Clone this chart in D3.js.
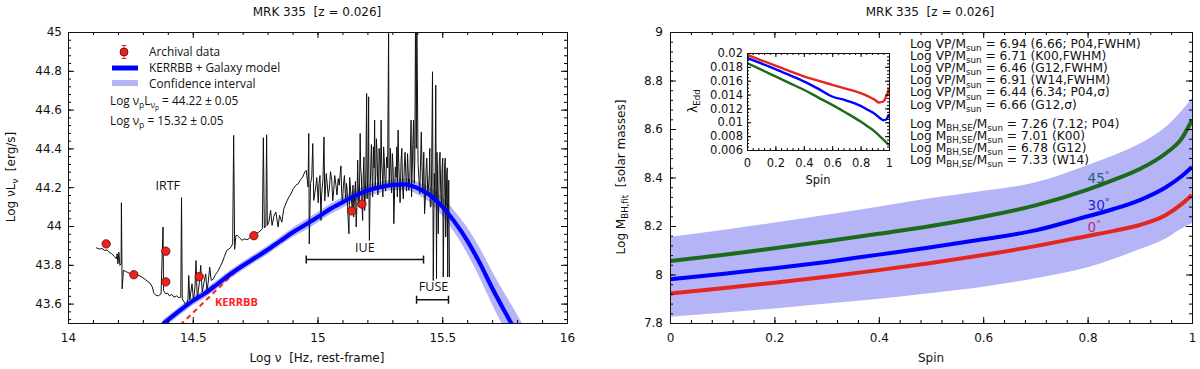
<!DOCTYPE html>
<html>
<head>
<meta charset="utf-8">
<script src="https://cdn.jsdelivr.net/npm/d3@7"></script>
<style>
  body { margin: 0; background: #fff; }
  svg { display: block; }
  text { font-family: "DejaVu Sans", sans-serif; fill: #111; }
  .os { font-family: "Open Sans", sans-serif; }
</style>
</head>
<body>
<svg id="chart" width="1200" height="369"></svg>
<script>
// ---- left panel: SED of MRK 335 ----
// observed spectrum (log nu, log nuLnu), read off the picture
var specNu = [14.113,14.126,14.136,14.147,14.156,14.165,14.175,14.186,14.194,14.197,14.200,14.204,14.208,14.213,14.214,14.217,
  14.222,14.230,14.240,14.253,14.266,14.279,14.292,14.305,14.318,14.329,14.338,14.344,14.352,14.362,14.373,14.378,14.381,14.383,
  14.391,14.399,14.406,14.416,14.425,14.435,14.445,14.452,14.455,14.458,14.466,14.474,14.481,14.484,14.488,14.497,14.503,14.509,
  14.513,14.518,14.526,14.532,14.538,14.544,14.552,14.557,14.562,14.568,14.574,14.583,14.591,14.601,14.610,14.619,14.627,14.636,
  14.645,14.653,14.660,14.664,14.668,14.673,14.679,14.688,14.697,14.708,14.718,14.729,14.740,14.753,14.766,14.779,14.783,14.787,
  14.793,14.796,14.799,14.805,14.812,14.818,14.825,14.833,14.842,14.848,14.857,14.865,14.874,14.885,14.894,14.903,14.913,14.923,
  14.932,14.941,14.949,14.955,14.962,14.965,14.967,14.972,14.977,14.981,14.985,14.993,15.001,15.006,15.014,15.019,15.026,15.032,
  15.039,15.048,15.057,15.065,15.074,15.083,15.091,15.097,15.104,15.113,15.119,15.126,15.132,15.139,15.145,15.149,15.155,15.161,
  15.166,15.171,15.176,15.181,15.186,15.192,15.197,15.201,15.205,15.208,15.214,15.219,15.224,15.229,15.234,15.239,15.245,15.250,
  15.255,15.260,15.265,15.270,15.277,15.285,15.290,15.295,15.300,15.306,15.312,15.318,15.323,15.328,15.335,15.341,15.348,15.354,
  15.361,15.366,15.375,15.380,15.385,15.390,15.393,15.396,15.398,15.403,15.410,15.416,15.422,15.429,15.435,15.442,15.448,15.452,
  15.457,15.461,15.464,15.468,15.474,15.477,15.481,15.484,15.488,15.494,15.499,15.504,15.509,15.514,15.518,15.522,15.526,15.529];
var specL = [43.888,43.881,43.884,43.874,43.877,43.865,43.857,43.843,43.831,43.857,43.805,43.865,43.797,43.805,44.120,43.676,
  43.771,43.767,43.760,43.753,43.750,43.747,43.740,43.729,43.716,43.705,43.685,43.654,43.643,43.640,43.650,43.874,43.995,43.667,
  43.650,43.654,43.640,43.647,43.633,43.640,43.630,43.633,44.146,43.624,43.607,43.590,43.624,43.745,43.619,43.702,43.616,43.685,
  43.822,43.624,43.702,43.797,43.659,43.702,43.753,43.667,43.710,43.788,43.719,43.728,43.750,43.767,43.791,43.814,43.843,43.874,
  43.881,43.891,43.908,44.467,43.880,43.951,43.951,43.939,43.926,43.934,43.929,43.939,43.946,43.960,43.969,43.986,44.455,43.990,
  44.000,44.470,44.003,44.020,44.081,44.003,44.050,44.072,43.995,44.055,44.020,44.089,44.118,44.149,44.167,44.193,44.210,44.218,
  44.239,44.253,44.279,44.287,44.201,44.477,43.908,44.218,44.253,44.425,44.132,44.201,44.167,44.218,44.029,44.201,44.459,44.184,
  44.218,44.201,44.236,44.184,44.210,44.244,44.270,44.167,44.210,44.124,44.184,43.960,44.201,44.098,44.046,44.167,43.995,44.339,
  44.098,44.477,44.253,44.029,44.356,44.167,44.683,44.236,44.666,43.926,44.339,44.253,44.408,44.546,44.270,44.373,44.236,44.339,
  44.546,44.270,44.408,44.253,44.356,44.993,44.322,44.253,44.373,44.012,44.304,44.408,44.494,44.236,44.339,44.201,44.304,44.270,
  44.373,44.184,44.546,44.304,44.546,44.339,45.100,44.400,45.100,44.322,44.167,44.485,44.167,44.063,44.287,44.167,44.270,44.098,
  44.236,44.795,43.719,44.270,44.726,43.728,44.253,43.960,44.322,44.167,44.287,43.737,44.296,43.943,44.270,43.737,44.236,43.737];
// extra samples in the crowded UV part of the spectrum
var uvNu = [14.997,15.003,15.010,15.016,15.022,15.029,15.035,15.043,15.052,15.061,15.069,15.078,15.087,15.094,15.100,15.108,
  15.116,15.122,15.129,15.135,15.142,15.147,15.152,15.158,15.163,15.168,15.173,15.178,15.183,15.189,15.194,15.199,15.203,15.206,
  15.211,15.216,15.221,15.227,15.231,15.236,15.242,15.247,15.252,15.257,15.262,15.267,15.273,15.281,15.287,15.292,15.297,15.303,
  15.309,15.315,15.320,15.325,15.331,15.338,15.344,15.351,15.357,15.363,15.370,15.377,15.382,15.388,15.419,15.426,15.432,15.438,
  15.445,15.450,15.455,15.471,15.479,15.486,15.491,15.497,15.502,15.507,15.512,15.516,15.520,15.524];
var uvL = [44.250,44.120,44.260,44.150,44.240,44.130,44.270,44.150,44.280,44.130,44.260,44.160,44.210,44.310,44.120,44.260,
  44.220,44.050,44.250,44.140,44.210,44.100,44.230,44.100,44.220,44.150,44.300,44.120,44.240,44.080,44.300,44.140,44.350,44.200,
  44.180,44.420,44.150,44.300,44.190,44.450,44.160,44.400,44.200,44.330,44.150,44.360,44.180,44.300,44.200,44.400,44.170,44.300,
  44.180,44.250,44.150,44.350,44.120,44.400,44.140,44.380,44.180,44.300,44.250,44.150,44.420,44.220,44.300,44.380,44.130,44.350,
  44.200,44.400,44.100,44.150,44.380,44.130,44.380,44.100,44.350,44.100,44.350,44.100,44.300,44.100];

// archival photometry
var archNu = [14.153, 14.264, 14.392, 14.392, 14.526, 14.745, 15.137, 15.178];
var archL  = [43.908, 43.749, 43.870, 43.712, 43.739, 43.950, 44.078, 44.113];

// KERRBB + galaxy model and its confidence band
var modelNu = [14.38,14.40,14.45,14.50,14.55,14.60,14.65,14.70,14.75,14.80,14.85,14.90,14.95,15.00,15.05,15.10,15.15,15.20,
  15.25,15.30,15.35,15.40,15.45,15.50,15.55,15.60,15.65,15.70,15.75,15.78,15.80,15.83];
var modelL = [43.495,43.515,43.566,43.614,43.654,43.702,43.751,43.795,43.836,43.877,43.922,43.967,44.005,44.045,44.087,44.122,
  44.155,44.183,44.200,44.212,44.215,44.196,44.160,44.100,44.020,43.925,43.810,43.680,43.560,43.490,43.440,43.370];
var bandHi = [43.517,43.537,43.588,43.636,43.676,43.724,43.773,43.817,43.858,43.899,43.945,43.991,44.032,44.072,44.114,44.150,
  44.183,44.211,44.228,44.240,44.245,44.228,44.198,44.147,44.076,43.992,43.887,43.766,43.652,43.587,43.542,43.475];
var bandLo = [43.473,43.493,43.544,43.592,43.632,43.680,43.729,43.773,43.814,43.855,43.899,43.943,43.978,44.018,44.060,44.094,
  44.127,44.155,44.172,44.184,44.185,44.164,44.122,44.053,43.964,43.858,43.733,43.594,43.468,43.393,43.338,43.265];

// KERRBB component alone (dashed)
var kerrNu = [14.450, 14.550, 14.650, 14.690];
var kerrL  = [43.490, 43.614, 43.739, 43.789];

// instrument coverage
var iueRange = [14.955, 15.425], iueLevel = 43.827;
var fuseRange = [15.397, 15.525], fuseLevel = 43.620;

var leftXTicks = [14, 14.5, 15, 15.5, 16];
var leftYTicks = [43.6, 43.8, 44, 44.2, 44.4, 44.6, 44.8, 45];

// ---- right panel: mass vs spin ----
var spin   = [0, 0.1, 0.2, 0.3, 0.4, 0.5, 0.6, 0.7, 0.8, 0.85, 0.9, 0.95, 0.98, 1.0];
var mass0  = [7.922, 7.943, 7.966, 7.991, 8.018, 8.047, 8.080, 8.117, 8.159, 8.180, 8.204, 8.245, 8.290, 8.328];
var mass30 = [7.980, 8.002, 8.026, 8.052, 8.082, 8.112, 8.145, 8.182, 8.240, 8.270, 8.307, 8.360, 8.405, 8.443];
var mass45 = [8.056, 8.080, 8.108, 8.137, 8.168, 8.200, 8.238, 8.285, 8.350, 8.390, 8.435, 8.500, 8.560, 8.637];
var massHi = [8.156, 8.184, 8.214, 8.246, 8.280, 8.315, 8.345, 8.380, 8.452, 8.492, 8.540, 8.610, 8.675, 8.728];
var massLo = [7.826, 7.842, 7.860, 7.880, 7.900, 7.924, 7.950, 7.985, 8.030, 8.065, 8.105, 8.150, 8.190, 8.212];

// inset: Eddington ratio vs spin
var iSpin = [0, 0.1, 0.2, 0.3, 0.4, 0.5, 0.6, 0.7, 0.8, 0.85, 0.9, 0.93, 0.96, 0.98, 0.99, 1.0];
var edd0  = [0.01976,0.01895,0.01817,0.01738,0.01662,0.01600,0.01541,0.01483,0.01421,0.01378,0.01324,0.01285,0.01300,0.01372,0.01420,0.01493];
var edd30 = [0.01928,0.01850,0.01768,0.01680,0.01590,0.01485,0.01372,0.01314,0.01237,0.01180,0.01121,0.01070,0.01030,0.01040,0.01070,0.01117];
var edd45 = [0.01855,0.01760,0.01662,0.01565,0.01469,0.01360,0.01252,0.01135,0.01010,0.00940,0.00866,0.00808,0.00750,0.00710,0.00690,0.00672];

var rightXTicks = [0, 0.2, 0.4, 0.6, 0.8, 1];
var rightYTicks = [7.8, 8, 8.2, 8.4, 8.6, 8.8, 9];
var insetXTicks = [0, 0.2, 0.4, 0.6, 0.8, 1];
var insetYTicks = [0.006, 0.008, 0.01, 0.012, 0.014, 0.016, 0.018, 0.02];

var vpLines  = ["6.94 (6.66; P04,FWHM)", "6.71 (K00,FWHM)", "6.46 (G12,FWHM)", "6.91 (W14,FWHM)", "6.44 (6.34; P04,\u03c3)", "6.66 (G12,\u03c3)"];
var mbhLines = ["7.26 (7.12; P04)", "7.01 (K00)", "6.78 (G12)", "7.33 (W14)"];

var angleLabels = [{t: "45", v: 8.398, c: "#2b5f7c"}, {t: "30", v: 8.287, c: "#2222dd"}, {t: "0", v: 8.196, c: "#b0307a"}];

var BAND = "#b4b4f7", BLUE = "#0000ff", RED = "#e5261f", GREEN = "#1b6b1b";

var svg = d3.select("#chart");

// text with sub/superscript pieces: [string, kind]
function rich(g, x, y, parts, size, anchor) {
  var t = g.append("text").attr("x", x).attr("y", y).attr("font-size", size)
    .attr("text-anchor", anchor || "start");
  var shift = 0;
  parts.forEach(function(p) {
    var kind = p[1] || "";
    var want = 0, fs = size;
    if (kind === "sub") { want = size * 0.28; fs = size * 0.72; }
    if (kind === "subsub") { want = size * 0.45; fs = size * 0.55; }
    if (kind === "sup") { want = -size * 0.35; fs = size * 0.7; }
    var s = t.append("tspan").text(p[0]);
    if (want !== shift) { s.attr("dy", want - shift); shift = want; }
    if (fs !== size) s.attr("font-size", fs);
  });
  return t;
}

// boxed frame with inward major/minor ticks on all four sides
function frame(g, x, y, o) {
  var x0 = x.range()[0], x1 = x.range()[1], y0 = y.range()[0], y1 = y.range()[1];
  function put(axis, tr, vals, size, labels) {
    var a = g.append("g").attr("transform", tr)
      .call(axis.tickValues(vals).tickSize(-size).tickSizeOuter(0)
        .tickPadding(labels ? labels.pad : 0)
        .tickFormat(labels ? labels.fmt : ""));
    a.select(".domain").remove();
    a.attr("font-family", null).attr("font-size", o.font);
    a.selectAll("text").attr("fill", "#111");
  }
  put(d3.axisBottom(x), "translate(0," + y0 + ")", o.xMinor, o.minor);
  put(d3.axisTop(x), "translate(0," + y1 + ")", o.xMinor, o.minor);
  put(d3.axisLeft(y), "translate(" + x0 + ",0)", o.yMinor, o.minor);
  put(d3.axisRight(y), "translate(" + x1 + ",0)", o.yMinor, o.minor);
  put(d3.axisBottom(x), "translate(0," + y0 + ")", o.xMajor, o.major, {pad: o.xPad, fmt: o.fmt});
  put(d3.axisTop(x), "translate(0," + y1 + ")", o.xMajor, o.major);
  put(d3.axisLeft(y), "translate(" + x0 + ",0)", o.yMajor, o.major, {pad: o.yPad, fmt: o.fmt});
  put(d3.axisRight(y), "translate(" + x1 + ",0)", o.yMajor, o.major);
  g.append("rect").attr("x", x0 + 0.5).attr("y", y1 + 0.5)
    .attr("width", x1 - x0).attr("height", y0 - y1)
    .attr("fill", "none").attr("stroke", "#111").attr("stroke-width", 1);
}

function steps(a, b, s) {
  var n = Math.round((b - a) / s), out = [];
  for (var i = 0; i <= n; i++) out.push(+(a + i * s).toFixed(5));
  return out;
}
var fmt = function(d) { return String(+d.toFixed(4)); };

// ================= LEFT PANEL =================
var xL = d3.scaleLinear().domain([14, 16]).range([68, 567]);
var yL = d3.scaleLinear().domain([43.5, 45]).range([323, 32]);
var gL = svg.append("g");

svg.append("defs").append("clipPath").attr("id", "clipL")
  .append("rect").attr("x", 68).attr("y", 32).attr("width", 499).attr("height", 291);
var pL = gL.append("g").attr("clip-path", "url(#clipL)");

var bandData = d3.range(modelNu.length).map(function(i) { return [modelNu[i], bandLo[i], bandHi[i]]; });
pL.append("path").datum(bandData).attr("fill", BAND)
  .attr("d", d3.area().curve(d3.curveMonotoneX)
    .x(function(d) { return xL(d[0]); }).y0(function(d) { return yL(d[1]); }).y1(function(d) { return yL(d[2]); }));

var spec = d3.zip(specNu, specL).concat(d3.zip(uvNu, uvL))
  .sort(function(a, b) { return a[0] - b[0]; });
pL.append("path").datum(spec).attr("fill", "none")
  .attr("stroke", "#111").attr("stroke-width", 1).attr("stroke-linejoin", "round")
  .attr("d", d3.line().x(function(d) { return xL(d[0]); }).y(function(d) { return yL(d[1]); }));

pL.append("path").datum(d3.zip(kerrNu, kerrL)).attr("fill", "none")
  .attr("stroke", "#ff2a1a").attr("stroke-width", 2.2).attr("stroke-dasharray", "5,4")
  .attr("d", d3.line().x(function(d) { return xL(d[0]); }).y(function(d) { return yL(d[1]); }));

pL.append("path").datum(d3.zip(modelNu, modelL)).attr("fill", "none")
  .attr("stroke", BLUE).attr("stroke-width", 4.2)
  .attr("d", d3.line().curve(d3.curveMonotoneX).x(function(d) { return xL(d[0]); }).y(function(d) { return yL(d[1]); }));

pL.selectAll("circle.arch").data(d3.zip(archNu, archL)).enter().append("circle")
  .attr("class", "arch").attr("cx", function(d) { return xL(d[0]); }).attr("cy", function(d) { return yL(d[1]); })
  .attr("r", 4.2).attr("fill", "#e8251b").attr("stroke", "#6a0000").attr("stroke-width", 0.8);

// coverage brackets
function bracket(range, level) {
  var yy = yL(level);
  gL.append("line").attr("x1", xL(range[0])).attr("x2", xL(range[1])).attr("y1", yy).attr("y2", yy)
    .attr("stroke", "#111").attr("stroke-width", 1.5);
  range.forEach(function(r) {
    gL.append("line").attr("x1", xL(r)).attr("x2", xL(r)).attr("y1", yy - 4).attr("y2", yy + 4)
      .attr("stroke", "#111").attr("stroke-width", 1.5);
  });
}
bracket(iueRange, iueLevel);
bracket(fuseRange, fuseLevel);
gL.append("text").attr("class", "os").attr("x", xL(15.19)).attr("y", 252).attr("text-anchor", "middle")
  .attr("font-size", 12.5).text("IUE");
gL.append("text").attr("class", "os").attr("x", xL(15.465)).attr("y", 291).attr("text-anchor", "middle")
  .attr("font-size", 12.5).text("FUSE");
gL.append("text").attr("class", "os").attr("x", xL(14.40)).attr("y", 190).attr("text-anchor", "middle")
  .attr("font-size", 12.5).text("IRTF");
gL.append("text").attr("class", "os").attr("x", 215).attr("y", 306).attr("font-size", 11)
  .attr("font-weight", "bold").style("fill", "#ff2020").text("KERRBB");

frame(gL, xL, yL, {
  xMajor: leftXTicks, xMinor: steps(14, 16, 0.1),
  yMajor: leftYTicks, yMinor: steps(43.52, 45, 0.04),
  major: 6, minor: 3, xPad: 10, yPad: 6, font: 12, fmt: fmt
});

// legend
gL.append("line").attr("x1", 124).attr("x2", 124).attr("y1", 45.5).attr("y2", 58.5).attr("stroke", "#e8251b").attr("stroke-width", 1);
[45.5, 58.5].forEach(function(yy) {
  gL.append("line").attr("x1", 121.5).attr("x2", 126.5).attr("y1", yy).attr("y2", yy).attr("stroke", "#e8251b").attr("stroke-width", 1);
});
gL.append("circle").attr("cx", 124).attr("cy", 52).attr("r", 4).attr("fill", "#e8251b").attr("stroke", "#6a0000").attr("stroke-width", 0.8);
gL.append("line").attr("x1", 112).attr("x2", 138).attr("y1", 68).attr("y2", 68).attr("stroke", BLUE).attr("stroke-width", 5);
gL.append("rect").attr("x", 112).attr("y", 80).attr("width", 26).attr("height", 6).attr("fill", BAND);
var legG = gL.append("g");
legG.append("text").attr("class", "os").attr("x", 149).attr("y", 55.5).attr("font-size", 11.8).text("Archival data");
legG.append("text").attr("class", "os").attr("x", 149).attr("y", 71.5).attr("font-size", 11.8).text("KERRBB + Galaxy model");
legG.append("text").attr("class", "os").attr("x", 149).attr("y", 87.5).attr("font-size", 11.8).text("Confidence interval");
rich(legG, 110, 104.5, [["Log \u03bd"], ["p", "sub"], ["L"], ["\u03bd", "sub"], ["p", "subsub"], [" = 44.22 \u00b1 0.05"]], 11.8).attr("class", "os");
rich(legG, 110, 124.5, [["Log \u03bd"], ["p", "sub"], [" = 15.32 \u00b1 0.05"]], 11.8).attr("class", "os");

// titles
svg.append("text").attr("x", 317).attr("y", 16).attr("text-anchor", "middle").attr("font-size", 12)
  .text("MRK 335\u00a0\u00a0[z = 0.026]");
svg.append("text").attr("x", 317).attr("y", 362).attr("text-anchor", "middle").attr("font-size", 12)
  .text("Log \u03bd\u00a0\u00a0[Hz, rest-frame]");
var ylab = svg.append("g").attr("transform", "translate(15,177) rotate(-90)");
rich(ylab, 0, 0, [["Log \u03bdL"], ["\u03bd", "sub"], ["\u00a0\u00a0[erg/s]"]], 12, "middle");

// ================= RIGHT PANEL =================
var xR = d3.scaleLinear().domain([0, 1]).range([670, 1192]);
var yR = d3.scaleLinear().domain([7.8, 9]).range([323, 32]);
var gR = svg.append("g");
svg.select("defs").append("clipPath").attr("id", "clipR")
  .append("rect").attr("x", 670).attr("y", 32).attr("width", 522).attr("height", 291);
var pR = gR.append("g").attr("clip-path", "url(#clipR)");

pR.append("path").datum(d3.range(spin.length)).attr("fill", BAND)
  .attr("d", d3.area().curve(d3.curveMonotoneX)
    .x(function(i) { return xR(spin[i]); }).y0(function(i) { return yR(massLo[i]); }).y1(function(i) { return yR(massHi[i]); }));

[[mass0, RED], [mass30, BLUE], [mass45, GREEN]].forEach(function(s) {
  pR.append("path").datum(d3.zip(spin, s[0])).attr("fill", "none")
    .attr("stroke", s[1]).attr("stroke-width", 4)
    .attr("d", d3.line().curve(d3.curveMonotoneX).x(function(d) { return xR(d[0]); }).y(function(d) { return yR(d[1]); }));
});

angleLabels.forEach(function(a) {
  var t = rich(gR, xR(0.80), yR(a.v) + 5, [[a.t], ["\u00b0", "sup"]], 13.5);
  t.style("fill", a.c);
  t.selectAll("tspan").style("fill", a.c);
});

frame(gR, xR, yR, {
  xMajor: rightXTicks, xMinor: steps(0, 1, 0.04),
  yMajor: rightYTicks, yMinor: steps(7.8, 9, 0.04),
  major: 6, minor: 3, xPad: 10, yPad: 7, font: 12, fmt: fmt
});

svg.append("text").attr("x", 930).attr("y", 16).attr("text-anchor", "middle").attr("font-size", 12)
  .text("MRK 335\u00a0\u00a0[z = 0.026]");
svg.append("text").attr("x", 931).attr("y", 362).attr("text-anchor", "middle").attr("font-size", 12).text("Spin");
var ylabR = svg.append("g").attr("transform", "translate(625,177) rotate(-90)");
rich(ylabR, 0, 0, [["Log M"], ["BH,fit", "sub"], ["\u00a0\u00a0[solar masses]"]], 12, "middle");

// text block
vpLines.forEach(function(s, i) {
  rich(gR, 910, 47.5 + 12.2 * i, [["Log VP/M"], ["sun", "sub"], [" = " + s]], 12.2);
});
mbhLines.forEach(function(s, i) {
  rich(gR, 910, 127.5 + 12 * i, [["Log M"], ["BH,SE", "sub"], ["/M"], ["sun", "sub"], [" = " + s]], 12.2);
});

// ---- inset ----
var xI = d3.scaleLinear().domain([0, 1]).range([747, 889]);
var yI = d3.scaleLinear().domain([0.006, 0.02]).range([150, 53]);
var gI = svg.append("g");
gI.append("rect").attr("x", 747).attr("y", 53).attr("width", 142).attr("height", 97).attr("fill", "#fff");
svg.select("defs").append("clipPath").attr("id", "clipI")
  .append("rect").attr("x", 747).attr("y", 53).attr("width", 142).attr("height", 97);
var pI = gI.append("g").attr("clip-path", "url(#clipI)");
[[edd0, RED], [edd30, BLUE], [edd45, GREEN]].forEach(function(s) {
  pI.append("path").datum(d3.zip(iSpin, s[0])).attr("fill", "none")
    .attr("stroke", s[1]).attr("stroke-width", 2.4)
    .attr("d", d3.line().curve(d3.curveMonotoneX).x(function(d) { return xI(d[0]); }).y(function(d) { return yI(d[1]); }));
});
frame(gI, xI, yI, {
  xMajor: insetXTicks, xMinor: steps(0, 1, 0.04),
  yMajor: insetYTicks, yMinor: steps(0.006, 0.02, 0.0005),
  major: 4, minor: 2, xPad: 9, yPad: 4, font: 11.5, fmt: fmt
});
svg.append("text").attr("x", 818).attr("y", 184).attr("text-anchor", "middle").attr("font-size", 11.5).text("Spin");
var ylabI = svg.append("g").attr("transform", "translate(697,101) rotate(-90)");
rich(ylabI, 0, 0, [["\u03bb"], ["Edd", "sub"]], 12, "middle");
</script>
</body>
</html>
